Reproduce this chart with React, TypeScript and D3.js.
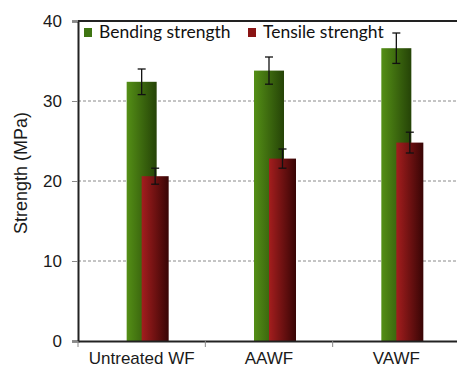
import React, { useRef, useEffect } from "react";
import * as d3 from "d3";

const categories = ["Untreated WF", "AAWF", "VAWF"];
const bendingValues = [32.4, 33.8, 36.6];
const bendingErrors = [1.6, 1.7, 1.9];
const tensileValues = [20.6, 22.8, 24.8];
const tensileErrors = [1.0, 1.2, 1.3];
const yTicks = [0, 10, 20, 30, 40];
const legendLabels = ["Bending strength", "Tensile strenght"];

const App: React.FC = () => {
    const svgRef = useRef<SVGSVGElement | null>(null);

    useEffect(() => {
        const width = 457;
        const height = 370;
        const margin = { top: 21, right: -3, bottom: 29, left: 78 };

        const svg = d3.select(svgRef.current);
        svg.selectAll("*").remove();

        const defs = svg.append("defs");
        const grad = (id: string, c1: string, c2: string) => {
            const g = defs
                .append("linearGradient")
                .attr("id", id)
                .attr("x1", "0")
                .attr("x2", "1")
                .attr("y1", "0")
                .attr("y2", "0");
            g.append("stop").attr("offset", "0").attr("stop-color", c1);
            g.append("stop").attr("offset", "1").attr("stop-color", c2);
        };
        grad("gGreen", "#548f16", "#254307");
        grad("gRed", "#a41e1e", "#380505");

        const x = d3
            .scaleBand<string>()
            .domain(categories)
            .range([margin.left, width - margin.right])
            .padding(0);

        const y = d3
            .scaleLinear()
            .domain([0, 40])
            .range([height - margin.bottom, margin.top]);

        // dashed grid lines
        svg.append("g")
            .selectAll("line")
            .data(yTicks.filter((t) => t > 0 && t < 40))
            .join("line")
            .attr("x1", margin.left)
            .attr("x2", width)
            .attr("y1", (d) => y(d))
            .attr("y2", (d) => y(d))
            .attr("stroke", "#8a8a8a")
            .attr("stroke-width", 1)
            .attr("stroke-dasharray", "3,2");

        // top border
        svg.append("line")
            .attr("x1", margin.left)
            .attr("x2", width)
            .attr("y1", y(40))
            .attr("y2", y(40))
            .attr("stroke", "#222")
            .attr("stroke-width", 2);

        const bw = x.bandwidth();
        const greenW = 30;
        const redW = 27;
        const greenX = (c: string) => x(c)! + bw / 2 - greenW / 2;
        const redX = (c: string) => x(c)! + bw / 2;

        svg.append("g")
            .selectAll("rect")
            .data(categories)
            .join("rect")
            .attr("x", (d) => greenX(d))
            .attr("width", greenW)
            .attr("y", (d, i) => y(bendingValues[i]))
            .attr("height", (d, i) => y(0) - y(bendingValues[i]))
            .attr("fill", "url(#gGreen)");

        svg.append("g")
            .selectAll("rect")
            .data(categories)
            .join("rect")
            .attr("x", (d) => redX(d))
            .attr("width", redW)
            .attr("y", (d, i) => y(tensileValues[i]))
            .attr("height", (d, i) => y(0) - y(tensileValues[i]))
            .attr("fill", "url(#gRed)");

        // error bars
        const errs = [
            ...categories.map((c, i) => ({
                cx: greenX(c) + greenW / 2,
                v: bendingValues[i],
                e: bendingErrors[i],
            })),
            ...categories.map((c, i) => ({
                cx: redX(c) + redW / 2,
                v: tensileValues[i],
                e: tensileErrors[i],
            })),
        ];
        const eg = svg.append("g").attr("stroke", "#111").attr("stroke-width", 1.3);
        errs.forEach((d) => {
            eg.append("line")
                .attr("x1", d.cx)
                .attr("x2", d.cx)
                .attr("y1", y(d.v + d.e))
                .attr("y2", y(d.v - d.e));
            [d.v + d.e, d.v - d.e].forEach((v) => {
                eg.append("line")
                    .attr("x1", d.cx - 4)
                    .attr("x2", d.cx + 4)
                    .attr("y1", y(v))
                    .attr("y2", y(v));
            });
        });

        // axes
        const yAxis = svg
            .append("g")
            .attr("transform", `translate(${margin.left},0)`)
            .call(d3.axisLeft(y).tickValues(yTicks).tickSize(6).tickPadding(10));
        yAxis.select(".domain").attr("stroke", "#222").attr("stroke-width", 2);
        yAxis.selectAll(".tick line").attr("stroke", "#888");
        yAxis.selectAll(".tick text")
            .attr("font-family", "Liberation Sans, Arial, sans-serif")
            .attr("font-size", 17)
            .attr("fill", "#1a1a1a");

        const xAxis = svg
            .append("g")
            .attr("transform", `translate(0,${y(0)})`)
            .call(
                d3
                    .axisBottom(x)
                    .tickSize(0)
                    .tickPadding(11)
            );
        xAxis.select(".domain").attr("stroke", "#222").attr("stroke-width", 2);
        xAxis.selectAll(".tick text")
            .attr("font-family", "Liberation Sans, Arial, sans-serif")
            .attr("font-size", 17)
            .attr("fill", "#1a1a1a");

        // category boundary ticks
        svg.append("g")
            .selectAll("line")
            .data(categories)
            .join("line")
            .attr("x1", (d) => x(d)!)
            .attr("x2", (d) => x(d)!)
            .attr("y1", y(0))
            .attr("y2", y(0) + 6)
            .attr("stroke", "#888")
            .attr("stroke-width", 1);

        // y label
        svg.append("text")
            .attr("transform", `translate(27,${(y(0) + y(40)) / 2 - 8}) rotate(-90)`)
            .attr("text-anchor", "middle")
            .attr("font-family", "Liberation Sans, Arial, sans-serif")
            .attr("font-size", 18)
            .attr("fill", "#1a1a1a")
            .text("Strength (MPa)");

        // legend
        const legend = svg.append("g").attr("font-family", "Lato, sans-serif").attr("font-size", 17.5);
        const legendX = [84, 248];
        const legendFills = ["#3f7512", "#8a1414"];
        legendLabels.forEach((lab, i) => {
            legend.append("rect")
                .attr("x", legendX[i])
                .attr("y", 28)
                .attr("width", 8)
                .attr("height", 9)
                .attr("fill", legendFills[i]);
            legend.append("text")
                .attr("x", legendX[i] + 15)
                .attr("y", 38)
                .attr("fill", "#111")
                .text(lab);
        });
    }, []);

    return (
        <svg
            ref={svgRef}
            width={457}
            height={370}
            style={{ position: "absolute", left: 0, top: 0, background: "#fff" }}
        />
    );
};

export default App;
